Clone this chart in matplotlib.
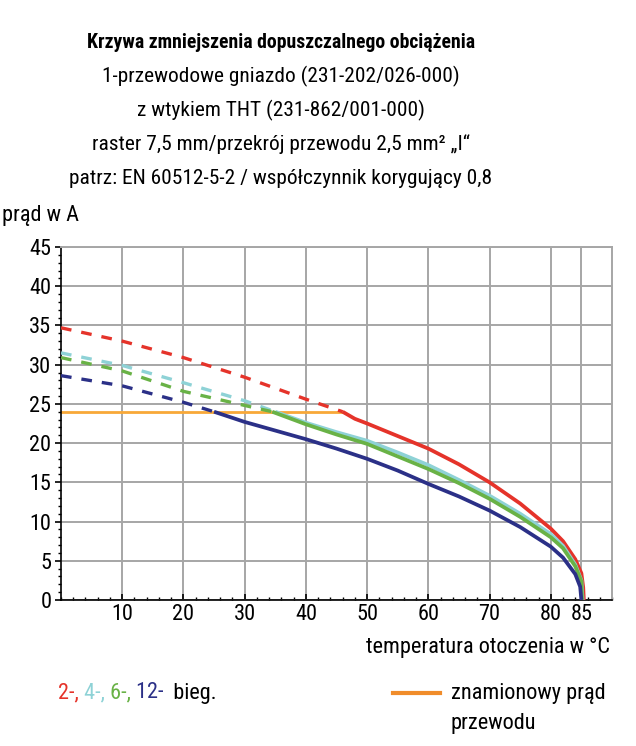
import matplotlib
matplotlib.use('Agg')
import matplotlib.pyplot as plt
from matplotlib.ticker import MultipleLocator

# Data
rated_current = 24
rated_x = [0, 46]

red_dash_x = [0, 10, 20, 30, 40, 46]
red_dash_y = [34.7, 33.0, 30.9, 28.4, 25.6, 24.0]
red_x = [46, 48, 50, 55, 60, 65, 70, 75, 80, 82, 84, 85, 85.3, 85.4]
red_y = [24.0, 23.1, 22.5, 20.9, 19.3, 17.3, 15.0, 12.3, 9.1, 7.5, 5.2, 3.4, 1.6, 0]

cyan_dash_x = [0, 10, 20, 30, 35]
cyan_dash_y = [31.5, 29.9, 27.7, 25.4, 24.0]
cyan_x = [35, 40, 45, 50, 55, 60, 65, 70, 75, 80, 82, 84, 85, 85.2]
cyan_y = [24.0, 22.6, 21.4, 20.3, 18.8, 17.2, 15.3, 13.3, 11.0, 8.4, 6.9, 4.5, 2.5, 0]

green_dash_x = [0, 10, 20, 30, 34.5]
green_dash_y = [30.9, 29.2, 26.6, 24.8, 24.0]
green_x = [34.5, 40, 45, 50, 55, 60, 65, 70, 75, 80, 82, 84, 85, 85.1]
green_y = [24.0, 22.4, 21.1, 19.9, 18.3, 16.7, 14.9, 12.9, 10.6, 8.0, 6.6, 4.3, 2.4, 0]

blue_dash_x = [0, 10, 20, 25]
blue_dash_y = [28.6, 27.3, 25.2, 24.0]
blue_x = [25, 30, 35, 40, 45, 50, 55, 60, 65, 70, 75, 80, 82, 84, 84.8, 85]
blue_y = [24.0, 22.7, 21.6, 20.5, 19.3, 18.0, 16.5, 14.8, 13.2, 11.4, 9.3, 6.8, 5.4, 3.3, 1.7, 0]

x_ticks = [10, 20, 30, 40, 50, 60, 70, 80, 85]
y_ticks = [0, 5, 10, 15, 20, 25, 30, 35, 40, 45]

title_lines = [
    'Krzywa zmniejszenia dopuszczalnego obciążenia',
    '1-przewodowe gniazdo (231-202/026-000)',
    'z wtykiem THT (231-862/001-000)',
    'raster 7,5 mm/przekrój przewodu 2,5 mm² „I“',
    'patrz: EN 60512-5-2 / współczynnik korygujący 0,8',
]

RED = '#e5332a'
CYAN = '#8ed2d6'
GREEN = '#69b246'
BLUE = '#2b3087'
ORANGE = '#f8a838'
ORANGE_LEG = '#f08c2a'

plt.rcParams['font.family'] = ['Roboto Condensed', 'Barlow Semi Condensed', 'DejaVu Sans']
FS = 16

fig = plt.figure(figsize=(6.36, 7.46), dpi=100)
ax = fig.add_axes([61 / 636, 1 - 600 / 746, (612 - 61) / 636, (600 - 247) / 746])

ax.set_xlim(0, 90)
ax.set_ylim(0, 45)
ax.set_xticks(x_ticks)
ax.set_yticks(y_ticks)
ax.xaxis.set_minor_locator(MultipleLocator(2))
ax.yaxis.set_minor_locator(MultipleLocator(1))
ax.grid(True, color='#a6a6a6', linewidth=1.4)
ax.set_axisbelow(True)
for s in ['top', 'right']:
    ax.spines[s].set_color('#a6a6a6')
    ax.spines[s].set_linewidth(1.4)
for s in ['left', 'bottom']:
    ax.spines[s].set_linewidth(1.2)
ax.tick_params(axis='both', which='major', labelsize=16, length=4, width=1.2, pad=3)
ax.tick_params(axis='both', which='minor', length=2.5, width=1)
ax.tick_params(axis='x', which='both', direction='in')

dash = (0, (3.2, 3.0))
lw = 2.4
ax.plot(rated_x, [rated_current] * 2, color=ORANGE, linewidth=2, zorder=2)
for dx, dy, sx, sy, c in [
    (red_dash_x, red_dash_y, red_x, red_y, RED),
    (cyan_dash_x, cyan_dash_y, cyan_x, cyan_y, CYAN),
    (green_dash_x, green_dash_y, green_x, green_y, GREEN),
    (blue_dash_x, blue_dash_y, blue_x, blue_y, BLUE),
]:
    ax.plot(dx, dy, color=c, linewidth=lw, linestyle=dash, zorder=3)
    ax.plot(sx, sy, color=c, linewidth=lw + 0.3, zorder=3, solid_capstyle='butt')

# Title block
y0 = 1 - 43 / 746
for i, line in enumerate(title_lines):
    fig.text(281 / 636, y0 - i * 33.8 / 746, line, ha='center', va='center',
             fontsize=14.2 if i == 0 else 15.4,
             fontweight='bold' if i == 0 else 'normal')
fig.text(2 / 636, 1 - 215 / 746, 'prąd w A', ha='left', va='center', fontsize=FS)
fig.text(610 / 636, 1 - 648 / 746, 'temperatura otoczenia w °C', ha='right',
         va='center', fontsize=FS)

# Legend: coloured labels
prev = fig.text(58 / 636, 1 - 693 / 746, '2-,', color=RED, fontsize=FS, va='center')
for txt, col in [(' 4-,', CYAN), (' 6-,', GREEN), (' 12-', BLUE), ('  bieg.', 'black')]:
    prev = ax.annotate(txt, xy=(1, 0.5), xycoords=prev, va='center', ha='left',
                       color=col, fontsize=FS, annotation_clip=False)

fig.add_artist(plt.Line2D([393 / 636, 440 / 636], [1 - 693 / 746] * 2,
                          color=ORANGE_LEG, linewidth=3))
fig.text(451 / 636, 1 - 693 / 746, 'znamionowy prąd', fontsize=FS, va='center')
fig.text(451 / 636, 1 - 723 / 746, 'przewodu', fontsize=FS, va='center')

fig.savefig('out.png', dpi=100)
